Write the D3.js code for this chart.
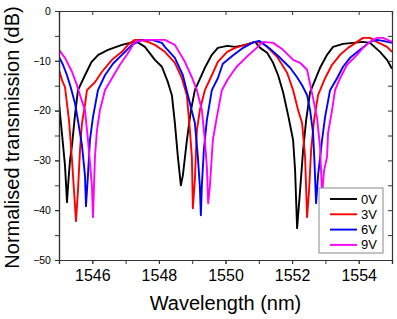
<!DOCTYPE html>
<html>
<head>
<meta charset="utf-8">
<script src="https://cdn.jsdelivr.net/npm/d3@7"></script>
<style>
  body { margin: 0; background: #fff; }
  svg { display: block; font-family: Arial, "Liberation Sans", sans-serif; }
</style>
</head>
<body>
<div id="chart"></div>
<script>
const width = 397,
  height = 319,
  margin = {top: 11, right: 5, bottom: 59, left: 59};

// wavelength (nm), transmission (dB)
const v0 = [[1545.00,-18.5],[1545.09,-24.7],[1545.18,-31],[1545.24,-38.4],[1545.27,-35.3],[1545.33,-30],[1545.39,-27],[1545.48,-20.9],[1545.57,-15.9],[1545.78,-12.9],[1545.98,-10.2],[1546.18,-8.8],[1546.47,-7.8],[1546.89,-6.8],[1547.19,-6.3],[1547.34,-6.2],[1547.58,-7.2],[1547.88,-9.8],[1548.09,-11.2],[1548.27,-14.3],[1548.39,-16.9],[1548.48,-22.5],[1548.57,-29.3],[1548.66,-35.0],[1548.72,-33],[1548.84,-26],[1548.96,-20],[1549.08,-15.9],[1549.38,-11.4],[1549.59,-8.8],[1549.77,-7.4],[1550.05,-7.0],[1550.29,-7.2],[1550.59,-6.8],[1550.89,-6.2],[1551.04,-7.4],[1551.25,-8.4],[1551.43,-10.4],[1551.58,-12.9],[1551.73,-16.3],[1551.88,-20.9],[1552.03,-25.9],[1552.09,-32],[1552.15,-43.6],[1552.24,-36],[1552.33,-28],[1552.42,-22],[1552.54,-16.3],[1552.84,-11.4],[1553.05,-8.8],[1553.23,-7.2],[1553.53,-6.6],[1553.83,-6.4],[1554.13,-6.2],[1554.34,-6.4],[1554.64,-8.2],[1554.85,-9.8],[1555.00,-11.6]];

const v3 = [[1545.00,-11.8],[1545.09,-13.9],[1545.18,-15.3],[1545.30,-21.9],[1545.39,-29.9],[1545.45,-36],[1545.51,-42.2],[1545.57,-36],[1545.63,-28],[1545.69,-22.5],[1545.78,-18.9],[1545.84,-15.9],[1546.08,-14.3],[1546.29,-12.2],[1546.59,-9.8],[1546.89,-8.2],[1547.07,-6.8],[1547.28,-5.8],[1547.43,-5.8],[1547.67,-6.2],[1547.88,-6.8],[1548.18,-8.2],[1548.48,-10.4],[1548.69,-13.5],[1548.84,-16.9],[1548.93,-23.9],[1548.99,-29.3],[1549.02,-39.6],[1549.08,-34],[1549.14,-23.9],[1549.23,-19.9],[1549.38,-15.9],[1549.59,-12.9],[1549.77,-10.2],[1550.05,-8.2],[1550.29,-7.4],[1550.59,-6.8],[1550.89,-6.2],[1551.10,-6.4],[1551.25,-7.2],[1551.55,-9.2],[1551.85,-12.4],[1552.03,-15.9],[1552.18,-19.9],[1552.30,-22.5],[1552.39,-29.3],[1552.45,-41.4],[1552.51,-36],[1552.57,-28],[1552.66,-21.9],[1552.78,-16.9],[1552.99,-13.5],[1553.20,-10.8],[1553.44,-8.8],[1553.68,-7.4],[1553.95,-6.2],[1554.13,-5.4],[1554.34,-5.4],[1554.55,-6.2],[1554.85,-7.2],[1555.00,-8.2]];

const v6 = [[1545.00,-9.2],[1545.12,-10.8],[1545.24,-12.9],[1545.36,-15.5],[1545.48,-18.5],[1545.57,-22],[1545.69,-27],[1545.78,-33],[1545.81,-39.2],[1545.87,-32.9],[1545.93,-25.9],[1546.02,-21.3],[1546.17,-15.9],[1546.38,-12.9],[1546.62,-10.6],[1546.89,-8.8],[1547.19,-6.8],[1547.49,-5.8],[1547.79,-5.8],[1548.09,-6.4],[1548.18,-7.2],[1548.48,-9.4],[1548.72,-12.9],[1548.87,-16.9],[1549.08,-22.5],[1549.17,-29.3],[1549.23,-35.3],[1549.26,-41],[1549.29,-35],[1549.35,-27.9],[1549.44,-21.9],[1549.59,-15.9],[1549.77,-13.5],[1549.92,-10.6],[1550.23,-8.9],[1550.53,-7.4],[1550.83,-6.3],[1551.01,-6.0],[1551.34,-7.6],[1551.64,-9.4],[1551.94,-11.4],[1552.15,-13.3],[1552.30,-14.9],[1552.45,-16.9],[1552.54,-19.9],[1552.63,-24.5],[1552.67,-30],[1552.72,-38.6],[1552.78,-33],[1552.90,-25.9],[1552.99,-21.3],[1553.14,-15.9],[1553.35,-13.5],[1553.53,-11.2],[1553.74,-9.4],[1554.04,-7.8],[1554.34,-6.2],[1554.55,-5.8],[1554.73,-6.0],[1555.00,-6.4]];

const v9 = [[1545.00,-7.8],[1545.18,-9.4],[1545.39,-12.2],[1545.54,-14.9],[1545.63,-16.9],[1545.78,-19.9],[1545.87,-25.9],[1545.93,-30.5],[1545.99,-35.3],[1546.02,-41.4],[1546.05,-35.3],[1546.08,-29.3],[1546.14,-23.9],[1546.23,-19.9],[1546.38,-15.9],[1546.59,-13.5],[1546.83,-10.8],[1547.04,-8.8],[1547.28,-6.2],[1547.58,-5.8],[1547.88,-5.8],[1548.18,-5.8],[1548.48,-6.8],[1548.78,-10.2],[1548.99,-13.3],[1549.14,-15.9],[1549.29,-19.9],[1549.38,-25.9],[1549.44,-31.3],[1549.48,-38.6],[1549.53,-35.3],[1549.62,-25.9],[1549.74,-21.3],[1549.89,-15.9],[1550.07,-13.7],[1550.32,-11.3],[1550.62,-9.3],[1550.92,-7.5],[1551.13,-6.2],[1551.43,-6.4],[1551.73,-7.8],[1552.03,-9.8],[1552.24,-10.4],[1552.45,-11.8],[1552.63,-17.5],[1552.75,-21.5],[1552.84,-27.3],[1552.90,-37],[1552.96,-32],[1553.05,-29.3],[1553.08,-24.5],[1553.20,-19.9],[1553.29,-15.9],[1553.44,-13.5],[1553.65,-10.8],[1553.95,-8.8],[1554.13,-7.4],[1554.34,-6.2],[1554.55,-5.4],[1554.73,-5.4],[1555.00,-6.2]];

const seriesNames = ["0V", "3V", "6V", "9V"];
const seriesData = [v0, v3, v6, v9];
const colors = ["#000000", "#ff0000", "#0000ff", "#ff00ff"];

const xTicks = [1546, 1548, 1550, 1552, 1554];
const xMinor = d3.range(1545, 1556, 1);
const yTicks = [0, -10, -20, -30, -40, -50];
const yMinor = d3.range(-50, 1, 5);

const svg = d3.select("#chart")
  .append("svg")
  .attr("width", width)
  .attr("height", height);

let x = d3.scaleLinear([1545, 1555], [margin.left, width - margin.right]);
let y = d3.scaleLinear([-50, 0], [height - margin.bottom, margin.top]);

svg.append("clipPath")
  .attr("id", "clip")
  .append("rect")
  .attr("x", margin.left)
  .attr("y", margin.top)
  .attr("width", width - margin.left - margin.right)
  .attr("height", height - margin.top - margin.bottom);

const line = d3.line()
  .x(d => x(d[0]))
  .y(d => y(d[1]));

svg.append("g")
  .attr("clip-path", "url(#clip)")
  .selectAll("path")
  .data(seriesData)
  .join("path")
  .attr("fill", "none")
  .attr("stroke", (d, i) => colors[i])
  .attr("stroke-width", 1.9)
  .attr("stroke-linejoin", "round")
  .attr("d", line);

// axes
const axisColor = "#333";
const tickFmt = d3.format("d");

let bottom = svg.append("g")
  .attr("transform", `translate(0,${height - margin.bottom})`)
  .call(d3.axisBottom(x).tickValues(xMinor).tickSize(4).tickFormat(""));
bottom.append("g")
  .call(d3.axisBottom(x).tickValues(xTicks).tickSize(4).tickFormat(tickFmt));

svg.append("g")
  .attr("transform", `translate(0,${margin.top})`)
  .call(d3.axisTop(x).tickValues(xTicks).tickSize(-4).tickFormat(""));

svg.append("g")
  .attr("transform", `translate(${margin.left},0)`)
  .call(d3.axisLeft(y).tickValues(yMinor).tickSize(4).tickFormat(""))
  .append("g")
  .call(d3.axisLeft(y).tickValues(yTicks).tickSize(4).tickFormat(tickFmt));

svg.append("g")
  .attr("transform", `translate(${width - margin.right},0)`)
  .call(d3.axisRight(y).tickValues(yMinor).tickSize(-4).tickFormat(""));

svg.selectAll(".domain").attr("stroke", axisColor).attr("stroke-width", 1.2);
svg.selectAll(".tick line").attr("stroke", axisColor).attr("stroke-width", 1);
svg.selectAll(".tick text").attr("fill", "#000");

bottom.selectAll(".tick text")
  .attr("font-size", 16)
  .attr("dy", "0.9em");

svg.selectAll("g").filter(function() {
  return this.getAttribute("text-anchor") === "end";
}).selectAll(".tick text")
  .attr("font-size", 10.5)
  .attr("dx", "-0.1em");

// axis titles
svg.append("text")
  .attr("x", (margin.left + width - margin.right) / 2)
  .attr("y", 310)
  .attr("text-anchor", "middle")
  .attr("font-size", 20)
  .text("Wavelength (nm)");

svg.append("text")
  .attr("transform", `translate(19,${(margin.top + height - margin.bottom) / 2 + 2}) rotate(-90)`)
  .attr("text-anchor", "middle")
  .attr("font-size", 20)
  .text("Normalised transmission (dB)");

// legend
const legend = svg.append("g").attr("transform", "translate(319,188)");
legend.append("rect")
  .attr("width", 64)
  .attr("height", 65)
  .attr("fill", "#fff")
  .attr("stroke", "#888")
  .attr("stroke-width", 1);

let legendGroup = legend.selectAll(".legend-group")
  .data(seriesNames)
  .join("g")
  .attr("class", "legend-group")
  .attr("transform", (d, i) => `translate(0,${11 + i * 15.3})`);

legendGroup.append("line")
  .attr("x1", 11)
  .attr("x2", 38)
  .attr("stroke", (d, i) => colors[i])
  .attr("stroke-width", 1.9);

legendGroup.append("text")
  .attr("x", 42)
  .attr("y", 4.5)
  .attr("font-size", 13)
  .text(d => d);
</script>
</body>
</html>
